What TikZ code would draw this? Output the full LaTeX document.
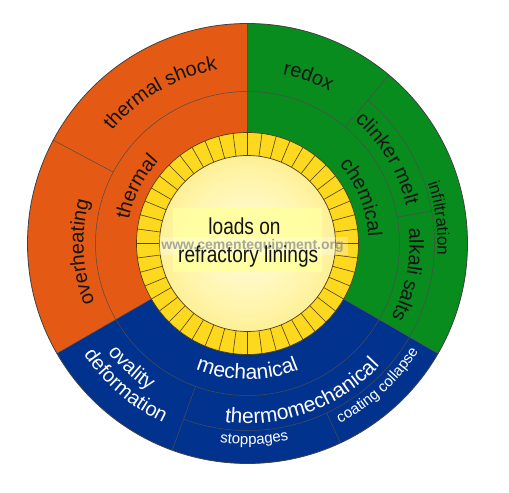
\documentclass[tikz,border=0pt]{standalone}
\usepackage{fontspec}
\setmainfont{Liberation Sans}
\usepackage{graphicx}
\usetikzlibrary{decorations.text}
\definecolor{secorange}{RGB}{228,90,20}
\definecolor{secgreen}{RGB}{8,140,30}
\definecolor{secblue}{RGB}{0,50,142}
\definecolor{ringyellow}{RGB}{252,216,30}
\definecolor{ringline}{RGB}{80,62,20}
\definecolor{boxyellow}{RGB}{255,255,160}
\definecolor{labeldark}{RGB}{20,20,20}
\pgfdeclareradialshading{discshade}{\pgfpoint{0bp}{0bp}}{rgb(0bp)=(1,0.99,0.88); rgb(18bp)=(1,0.96,0.68); rgb(38bp)=(0.99,0.9,0.42); rgb(50bp)=(0.98,0.85,0.24)}
\newcommand\fntL{\fontsize{20bp}{24bp}\selectfont}
\newcommand\fntX{\fontsize{21bp}{25bp}\selectfont}
\newcommand\fntM{\fontsize{17bp}{20bp}\selectfont}
\newcommand\fntS{\fontsize{15bp}{18bp}\selectfont}
% clockwise label, tops outward: #1 angle, #2 radius, #3 half span, #4 format, #5 text
\newcommand\CWlabel[5]{\path[decorate,decoration={text along path,text align=center,text={|#4|#5}}]
  ({#1+#3}:#2) arc[start angle={#1+#3}, end angle={#1-#3}, radius=#2];}
% counter-clockwise label, tops inward
\newcommand\CCWlabel[5]{\path[decorate,decoration={text along path,text align=center,text={|#4|#5}}]
  ({#1-#3}:#2) arc[start angle={#1-#3}, end angle={#1+#3}, radius=#2];}
\tikzset{
  divider/.style={draw=black!70, line width=0.5bp},
  rimline/.style={draw=black!75, line width=0.8bp},
  centertext/.style={inner sep=0pt, anchor=base, text=labeldark, font=\fontsize{23bp}{27bp}\selectfont},
}
\begin{document}
\begin{tikzpicture}[x=1bp,y=1bp]
\useasboundingbox (-247.5,-249.5) rectangle (261.5,243.5);
\fill[white] (-247.5,-249.5) rectangle (261.5,243.5);
% sectors
\fill[secorange] (0,0) -- (90:220) arc[start angle=90, end angle=210, radius=220] -- cycle;
\fill[secblue] (0,0) -- (210:220) arc[start angle=210, end angle=330, radius=220] -- cycle;
\fill[secgreen] (0,0) -- (330:220) arc[start angle=330, end angle=450, radius=220] -- cycle;
% dividers
\draw[divider] (90:111) -- (90:220);
\draw[divider] (210:111) -- (210:220);
\draw[divider] (330:111) -- (330:220);
\draw[divider] (0,0) circle (152);
\draw[divider] (152:152) -- (152:220);
\draw[divider] (50:152) -- (50:220);
\draw[divider] (-110:187) arc[start angle=-110, end angle=50, radius=187];
\draw[divider] (10:152) -- (10:187);
\draw[divider] (250:152) -- (250:220);
\draw[divider] (295:187) -- (295:220);
\draw[rimline] (0,0) circle (220);
% yellow brick ring
\fill[ringyellow] (0,0) circle (111);
\foreach \a in {0,7.5,...,352.5} \draw[ringline, line width=0.6bp] (\a:88) -- (\a:111);
\draw[ringline, line width=0.7bp] (0,0) circle (111);
\shade[shading=discshade] (0,0) circle (88);
\draw[ringline, line width=0.7bp] (0,0) circle (88);
% centre text
\fill[boxyellow, opacity=0.9] (-74.5,-28.5) rectangle (74.5,35.5);
\fill[white, opacity=0.3] (-89,-11.5) rectangle (100.5,6.5);
\node[inner sep=0pt, text=black!45, opacity=0.75, font=\bfseries\fontsize{14bp}{16bp}\selectfont] (wm) at (5,-2.5) {www.cementequipment.org};
\node[centertext] (l1) at (-3,8.5) {\scalebox{0.83}[1]{loads on}};
\node[centertext] (l2) at (0.7,-19.5) {\scalebox{0.83}[1]{refractory linings}};
% orange labels
\CWlabel{120}{176}{30}{\fntL\color{labeldark}}{thermal shock}
\CWlabel{183}{164}{28}{\fntL\color{labeldark}}{overheating}
\CWlabel{153}{121}{40}{\fntL\color{labeldark}}{thermal}
% green labels
\CWlabel{70}{173}{18}{\fntL\color{labeldark}}{redox}
\CWlabel{22}{121}{35}{\fntL\color{labeldark}}{chemical}
\CWlabel{31}{163}{20}{\fntL\color{labeldark}}{clinker melt}
\CWlabel{-11}{162}{20}{\fntL\color{labeldark}}{alkali salts}
\CWlabel{7.5}{190}{30}{\fntM\color{labeldark}}{infiltration}
% blue labels
\CCWlabel{270}{136}{45}{\fntX\color{white}}{mechanical}
\CCWlabel{290}{180}{36}{\fntX\color{white}}{thermomechanical}
\CCWlabel{272}{201}{20}{\fntS\color{white}}{stoppages}
\CCWlabel{312.5}{202}{20}{\fntS\color{white}}{coating collapse}
\CCWlabel{227}{177}{15}{\fntL\color{white}}{ovality}
\CCWlabel{229.5}{198}{20}{\fntL\color{white}}{deformation}
\end{tikzpicture}
\end{document}
